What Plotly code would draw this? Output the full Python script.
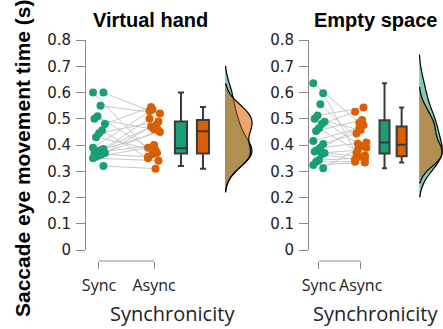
import plotly.graph_objects as go

# ---------------- data ----------------
categories = ["Sync", "Async"]
panel_titles = ["Virtual hand", "Empty space"]

vh_sync = [0.60, 0.60, 0.55, 0.51, 0.50, 0.48, 0.455, 0.445, 0.43, 0.39,
           0.385, 0.38, 0.375, 0.37, 0.37, 0.365, 0.36, 0.355, 0.35, 0.32]
vh_async = [0.365, 0.53, 0.52, 0.37, 0.46, 0.545, 0.35, 0.49, 0.38, 0.535,
            0.50, 0.45, 0.48, 0.40, 0.47, 0.355, 0.455, 0.39, 0.34, 0.31]

es_sync = [0.635, 0.597, 0.555, 0.512, 0.50, 0.489, 0.48, 0.464, 0.453, 0.415,
           0.404, 0.39, 0.381, 0.375, 0.37, 0.365, 0.343, 0.336, 0.324, 0.311]
es_async = [0.485, 0.368, 0.39, 0.543, 0.457, 0.405, 0.527, 0.36, 0.495, 0.465,
            0.444, 0.41, 0.476, 0.355, 0.381, 0.345, 0.35, 0.336, 0.333, 0.396]

y_ticks = [0, 0.1, 0.2, 0.3, 0.4, 0.5, 0.6, 0.7, 0.8]
y_tick_labels = ["0", "0.1", "0.2", "0.3", "0.4", "0.5", "0.6", "0.7", "0.8"]

y_title = "Saccade eye movement time (s)"
x_title = "Synchronicity"

# ---------------- styling / geometry ----------------
W, H = 443, 329
GREEN = "#1b9e77"
ORANGE = "#d95f02"
GREEN_FILL = "rgba(27,158,119,0.55)"
ORANGE_FILL = "rgba(217,95,2,0.55)"
AXIS_GRAY = "#8a8a8a"
BOX_LINE = "#3a3a3a"


def px(x):
    return x / W


def py(y):
    return 1 - y / H


panels = [
    dict(sync=vh_sync, asyn=vh_async, xa="x", ya="y", xl="xaxis", yl="yaxis",
         dom=(86, 258), rng=(0.764, 3.89), box=(2.49, 2.89), vio=3.29,
         boxw=0.22, viow=0.98, jit=1.0, title_x=150, label_x=172),
    dict(sync=es_sync, asyn=es_async, xa="x2", ya="y2", xl="xaxis2", yl="yaxis2",
         dom=(309, 443), rng=(0.762, 3.97), box=(2.57, 2.98), vio=3.4,
         boxw=0.24, viow=1.1, jit=1.25, title_x=375, label_x=375),
]

fig = go.Figure()
layout = dict(
    template="none",
    width=W, height=H, autosize=False,
    margin=dict(l=0, r=0, t=0, b=0, pad=0, autoexpand=False),
    paper_bgcolor="white", plot_bgcolor="white",
    showlegend=False, boxmode="overlay", violinmode="overlay",
    hovermode=False,
    annotations=[], shapes=[],
)

for i, p in enumerate(panels):
    n = len(p["sync"])
    offs = [((k * 7) % 9 - 4) * 0.027 * p["jit"] for k in range(n)]
    xs_sync = [1 + o for o in offs]
    xs_async = [2 + offs[(k + 3) % n] for k in range(n)]

    # connecting lines
    lx, ly = [], []
    for k in range(n):
        lx += [xs_sync[k], xs_async[k], None]
        ly += [p["sync"][k], p["asyn"][k], None]
    fig.add_trace(go.Scatter(x=lx, y=ly, mode="lines", xaxis=p["xa"], yaxis=p["ya"],
                             line=dict(color="#c9c9c9", width=1), hoverinfo="skip"))
    # points
    fig.add_trace(go.Scatter(x=xs_sync, y=p["sync"], mode="markers", xaxis=p["xa"], yaxis=p["ya"],
                             marker=dict(color=GREEN, size=8, line=dict(width=0))))
    fig.add_trace(go.Scatter(x=xs_async, y=p["asyn"], mode="markers", xaxis=p["xa"], yaxis=p["ya"],
                             marker=dict(color=ORANGE, size=8, line=dict(width=0))))
    # boxes
    for vals, pos, col in [(p["sync"], p["box"][0], GREEN), (p["asyn"], p["box"][1], ORANGE)]:
        fig.add_trace(go.Box(y=vals, x0=pos, width=p["boxw"], xaxis=p["xa"], yaxis=p["ya"],
                             fillcolor=col, line=dict(color=BOX_LINE, width=2),
                             boxpoints=False, whiskerwidth=0.5))
    # half violins
    for vals, fill in [(p["sync"], GREEN_FILL), (p["asyn"], ORANGE_FILL)]:
        fig.add_trace(go.Violin(y=vals, x0=p["vio"], width=p["viow"], side="positive",
                                xaxis=p["xa"], yaxis=p["ya"], fillcolor=fill,
                                line=dict(color="black", width=1.2), points=False,
                                box=dict(visible=False), meanline=dict(visible=False),
                                spanmode="soft", hoverinfo="skip"))

    layout[p["xl"]] = dict(
        domain=[px(p["dom"][0]), px(p["dom"][1])], range=list(p["rng"]),
        anchor="free", position=py(261), automargin=False,
        showline=False, showgrid=False, zeroline=False,
        tickmode="array", tickvals=[1, 2], ticktext=categories,
        ticks="outside", ticklen=7, tickcolor=AXIS_GRAY, tickwidth=1,
        ticklabelstandoff=3,
        tickfont=dict(family="Open Sans", size=16, color="#222"),
    )
    layout[p["yl"]] = dict(
        domain=[py(250), py(40)], range=[0, 0.8], anchor=p["xa"], automargin=False,
        showline=True, linecolor=AXIS_GRAY, linewidth=1,
        showgrid=False, zeroline=False,
        tickmode="array", tickvals=y_ticks, ticktext=y_tick_labels,
        ticks="outside", ticklen=9, tickcolor=AXIS_GRAY, tickwidth=1,
        ticklabelstandoff=2,
        tickfont=dict(family="DejaVu Sans", size=15, color="#222"),
    )
    # bracket line between Sync and Async
    layout["shapes"].append(dict(type="line", xref=p["xa"], yref="paper",
                                 x0=1, x1=2, y0=py(261), y1=py(261),
                                 line=dict(color=AXIS_GRAY, width=1)))
    # panel title
    layout["annotations"].append(dict(text="<b>%s</b>" % panel_titles[i], xref="paper", yref="paper",
                                      x=px(p["title_x"]), y=py(20), showarrow=False,
                                      xanchor="center", yanchor="middle",
                                      font=dict(family="Liberation Sans", size=20, color="black")))
    # x title
    layout["annotations"].append(dict(text=x_title, xref="paper", yref="paper",
                                      x=px(p["label_x"]), y=py(313), showarrow=False,
                                      xanchor="center", yanchor="middle",
                                      font=dict(family="Open Sans", size=20, color="#222")))

layout["annotations"].append(dict(text="<b>%s</b>" % y_title, xref="paper", yref="paper",
                                  x=px(22), y=py(159), showarrow=False, textangle=-90,
                                  xanchor="center", yanchor="middle",
                                  font=dict(family="Liberation Sans", size=21, color="black")))

fig.update_layout(**layout)
fig.write_html("out.html", config={"displayModeBar": False, "staticPlot": True},
               post_script="document.body.style.margin='0px';")
